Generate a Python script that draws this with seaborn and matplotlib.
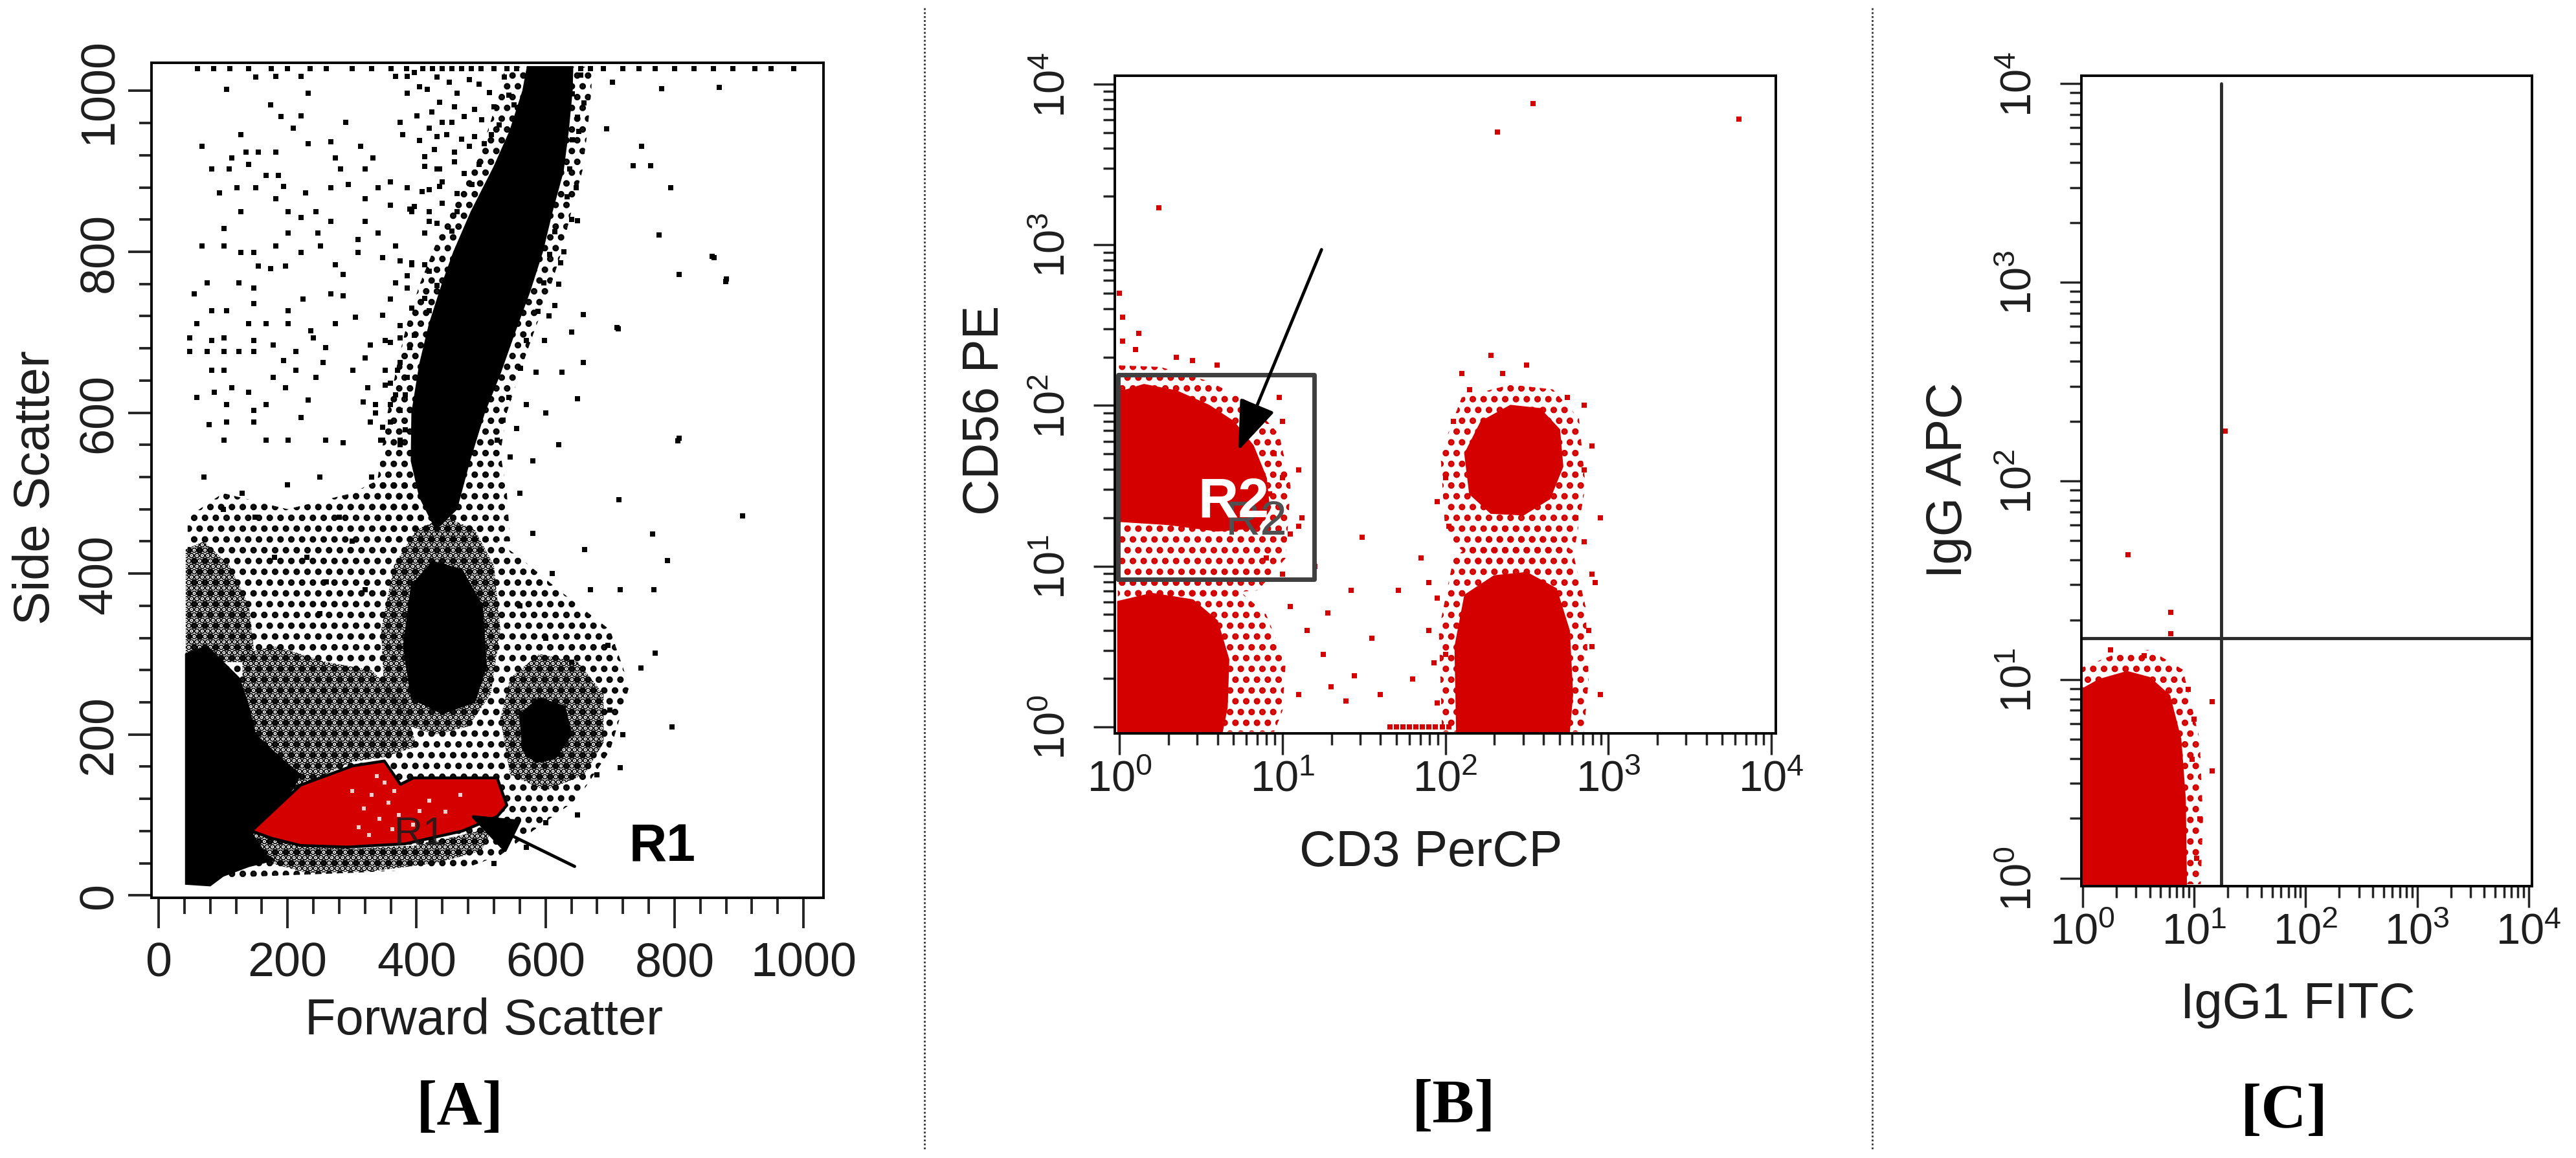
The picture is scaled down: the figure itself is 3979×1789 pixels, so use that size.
import numpy as np
import matplotlib as mpl
mpl.use('Agg')
import matplotlib.pyplot as plt
import matplotlib.ticker as ticker
from matplotlib.lines import Line2D
import seaborn as sns

sns.set_style('ticks')
plt.rcParams['font.family'] = ['Liberation Sans', 'DejaVu Sans']
mpl.rcParams['mathtext.fontset'] = 'custom'
mpl.rcParams['mathtext.rm'] = 'Liberation Sans'
mpl.rcParams['mathtext.it'] = 'Liberation Sans:italic'
mpl.rcParams['mathtext.bf'] = 'Liberation Sans:bold'
mpl.rcParams['mathtext.default'] = 'regular'
mpl.rcParams['hatch.linewidth'] = 4.8
mpl.rcParams['axes.linewidth'] = 2.8
mpl.rcParams['axes.edgecolor'] = 'black'

RED = '#d40000'
TXT = '#1e1e1e'

# ---------------- panel A : scatter (linear channels) ----------------
# dense cores (events so dense they merge into solid black)
A_STREAK_X = [430, 405, 392, 393, 405, 420, 440, 458, 485, 520, 545, 565, 572,
              642, 641, 635, 627, 610, 595, 575, 552, 530, 505, 482, 462]
A_STREAK_Y = [455, 495, 540, 600, 660, 710, 760, 800, 850, 905, 950, 1000, 1030,
              1030, 1000, 950, 900, 850, 800, 750, 700, 650, 600, 540, 480]
A_DEBRIS_X = [42, 42, 75, 100, 125, 138, 150, 190, 220, 200, 144, 165, 180, 140, 100, 80]
A_DEBRIS_Y = [14, 300, 310, 290, 270, 240, 200, 170, 150, 122, 78, 52, 44, 36, 24, 12]
A_MONO_CORE_X = [392, 380, 392, 425, 470, 502, 508, 490, 440]
A_MONO_CORE_Y = [245, 310, 385, 415, 405, 360, 285, 240, 226]
A_EOS_CORE_X = [565, 560, 590, 630, 640, 615, 585]
A_EOS_CORE_Y = [180, 225, 245, 235, 200, 170, 165]

# dense speckled areas
A_MONO_X = [390, 350, 345, 365, 400, 445, 490, 520, 530, 515, 480, 430]
A_MONO_Y = [210, 250, 330, 410, 455, 470, 455, 410, 330, 250, 210, 200]
A_EOS_X = [545, 530, 545, 590, 650, 690, 690, 660, 600]
A_EOS_Y = [150, 220, 270, 300, 290, 250, 190, 150, 130]
A_MID_X = [130, 130, 180, 260, 330, 380, 400, 350, 300, 230, 180]
A_MID_Y = [150, 300, 310, 290, 280, 240, 185, 172, 166, 140, 110]
A_BAND_X = [150, 140, 200, 300, 400, 470, 520, 500, 430, 330, 230]
A_BAND_Y = [45, 80, 68, 58, 62, 75, 85, 55, 40, 30, 28]
A_DEBRIS_UP_X = [42, 42, 70, 110, 140, 150]
A_DEBRIS_UP_Y = [290, 430, 440, 410, 360, 290]

# lighter speckled areas
A_LOW_X = [45, 45, 100, 200, 300, 350, 420, 560, 620, 700, 730, 700, 650, 580, 530, 480, 300, 200]
A_LOW_Y = [20, 470, 500, 480, 500, 520, 500, 420, 380, 330, 260, 180, 120, 80, 50, 35, 28, 25]
A_HALO_X = [340, 340, 355, 370, 385, 405, 425, 450, 485, 510, 530, 537,
            672, 671, 665, 657, 640, 625, 605, 582, 560, 540, 530, 540, 545]
A_HALO_Y = [440, 520, 600, 660, 710, 760, 800, 850, 905, 950, 1000, 1030,
            1030, 1000, 950, 900, 850, 800, 750, 700, 650, 600, 550, 500, 440]

# scattered single events (Forward, Side)
A_DOTS = [
    # right of the granulocyte streak
    (704, 1011), (780, 1003), (695, 953), (749, 931), (736, 907), (763, 907), (794, 880), (776, 821),
    (861, 793), (807, 772), (879, 763), (713, 704), (659, 722), (659, 662), (650, 617), (807, 568),
    (614, 733), (869, 1004), (858, 794), (880, 766), (711, 706), (805, 565), (906, 472), (714, 492),
    (766, 449), (789, 416), (768, 380), (770, 301), (796, 209), (716, 159), (748, 283), (716, 380),
    (661, 430), (670, 380), (697, 311),
    (641, 996), (650, 967), (641, 939), (637, 903), (633, 868), (614, 825), (606, 797), (597, 761),
    (588, 726), (570, 690), (561, 655), (543, 619), (534, 591), (525, 566), (623, 786), (650, 839),
    (614, 889), (655, 1020), (660, 985), (652, 950), (648, 880), (640, 840), (628, 800), (620, 760),
    (605, 720), (598, 690), (585, 650), (570, 610), (555, 580), (545, 545), (560, 500), (580, 540),
    (600, 600), (625, 650), (640, 700), (620, 560),
    # left of the streak
    (151, 1017), (182, 1018), (221, 1018), (367, 1018), (386, 1018), (105, 1002), (232, 997),
    (386, 997), (174, 983), (190, 968), (221, 969), (290, 961), (374, 961), (401, 969), (424, 974),
    (128, 946), (209, 954), (378, 946), (405, 938), (420, 954), (67, 931), (232, 934), (267, 937),
    (313, 931), (413, 918), (136, 924), (155, 924), (182, 924), (113, 917), (274, 917), (332, 917),
    (82, 903), (109, 903), (140, 909), (167, 895), (186, 895), (282, 903), (320, 903), (436, 903),
    (94, 873), (121, 880), (151, 880), (194, 881), (267, 880), (294, 884), (340, 880), (359, 887),
    (386, 880), (420, 877), (440, 887), (182, 866), (228, 873), (320, 866), (359, 858), (397, 856),
    (440, 860), (128, 850), (201, 850), (221, 843), (244, 850), (267, 838), (320, 838), (393, 850),
    (420, 838), (101, 829), (201, 823), (247, 823), (309, 815), (340, 823), (413, 823), (67, 807),
    (101, 807), (128, 799), (148, 799), (182, 807), (221, 799), (251, 807), (309, 799), (347, 793),
    (367, 807), (155, 782), (174, 779), (197, 782), (274, 784), (286, 772), (386, 770), (393, 784),
    (413, 784), (55, 748), (75, 761), (124, 761), (148, 755), (148, 736), (224, 741), (267, 748),
    (286, 745), (367, 761), (386, 755), (359, 741), (82, 727), (59, 711), (105, 727), (140, 711),
    (167, 711), (201, 727), (201, 711), (236, 702), (274, 711), (305, 719), (347, 721), (48, 693),
    (82, 690), (101, 693), (148, 690), (178, 684), (48, 676), (75, 676), (101, 676), (124, 676),
    (148, 676), (213, 676), (240, 693), (259, 681), (328, 684), (351, 690), (374, 693), (82, 653),
    (101, 653), (194, 665), (213, 653), (255, 662), (301, 653), (320, 668), (351, 653), (374, 662),
    (113, 631), (140, 625), (178, 644), (197, 631), (244, 644), (324, 631), (359, 637), (382, 622),
    (59, 619), (86, 625), (105, 610), (148, 603), (167, 610), (232, 616), (317, 613), (336, 600),
    (359, 610), (78, 585), (105, 588), (148, 588), (221, 594), (328, 588), (347, 582), (101, 566),
    (167, 566), (201, 566), (259, 566), (286, 563), (344, 566), (374, 566),
    # speckle along the streak's upper left edge
    (397, 1023), (405, 1005), (417, 1002), (432, 1017), (451, 1011), (463, 997), (482, 1014),
    (497, 1008), (513, 998), (536, 1017), (543, 995), (436, 986), (459, 980), (490, 977), (520, 980),
    (551, 983), (440, 961), (455, 961), (474, 968), (501, 964), (528, 958), (432, 943), (447, 946),
    (470, 940), (490, 943), (516, 946), (428, 927), (459, 924), (482, 931), (505, 934), (413, 906),
    (432, 903), (459, 912), (474, 897), (497, 909), (409, 875), (436, 881), (463, 872), (486, 884),
    (390, 853), (420, 850), (440, 860), (463, 850), (432, 835), (455, 826), (474, 813), (374, 789),
    (393, 786), (420, 776), (432, 758), (413, 742), (393, 730), (420, 727), (374, 708), (397, 696),
    (359, 687), (390, 681), (370, 653), (386, 644), (351, 634), (367, 622), (336, 610), (374, 603),
    (359, 588), (382, 579), (347, 566), (374, 560),
    # lower half
    (230, 420), (260, 390), (300, 440), (180, 420), (150, 470), (280, 470), (320, 380), (250, 350),
    (600, 320), (640, 290), (610, 400), (580, 450), (560, 360), (700, 230), (680, 150), (720, 200),
    (650, 100), (600, 90), (570, 60), (520, 40), (100, 480), (130, 500), (70, 520), (200, 510),
    (250, 520), (330, 520),
]
# events piled up at the top channel
A_TOP_X = [60, 85, 110, 140, 175, 200, 235, 260, 300, 330, 360, 385, 410, 425, 440, 455, 470, 485,
           500, 520, 540, 555, 655, 670, 690, 720, 745, 770, 800, 830, 860, 890, 925, 950, 985]
A_TOP_Y = 1028

# R1 gate
A_GATE_X = [144, 220, 301, 350, 375, 395, 525, 540, 525, 471, 382, 292, 220, 175, 144]
A_GATE_Y = [80, 137, 161, 167, 138, 146, 146, 112, 98, 80, 64, 60, 62, 71, 80]
A_GATE_HOLES = [(318, 108), (330, 125), (342, 95), (350, 140), (356, 115), (362, 82), (372, 100),
                (300, 130), (420, 118), (445, 104), (468, 125), (395, 88), (338, 148), (326, 75),
                (310, 85), (365, 130), (405, 105)]

# ---------------- panel B : CD3 PerCP vs CD56 PE (log10 exponents) ----------------
B_NK_CORE_U = [-0.01, -0.01, 0.15, 0.35, 0.55, 0.70, 0.82, 0.90, 0.92, 0.85, 0.60, 0.30]
B_NK_CORE_V = [1.28, 2.08, 2.13, 2.09, 2.00, 1.90, 1.75, 1.55, 1.35, 1.24, 1.22, 1.26]
B_NK_HALO_U = [-0.01, -0.01, 0.25, 0.55, 0.80, 0.98, 1.05, 1.02, 0.85, 0.50, 0.20]
B_NK_HALO_V = [0.85, 2.25, 2.24, 2.15, 2.02, 1.82, 1.50, 1.05, 0.85, 0.82, 0.82]
B_LO_CORE_U = [-0.01, -0.01, 0.20, 0.45, 0.60, 0.67, 0.66, 0.63]
B_LO_CORE_V = [-0.03, 0.78, 0.83, 0.79, 0.66, 0.42, 0.12, -0.03]
B_LO_HALO_U = [-0.01, -0.01, 0.30, 0.70, 0.90, 1.02, 1.00, 0.95]
B_LO_HALO_V = [-0.03, 0.90, 0.92, 0.88, 0.70, 0.40, 0.10, -0.03]
B_DP_CORE_U = [2.15, 2.12, 2.22, 2.40, 2.58, 2.70, 2.72, 2.64, 2.48, 2.28]
B_DP_CORE_V = [1.45, 1.70, 1.90, 2.00, 1.98, 1.85, 1.62, 1.42, 1.32, 1.33]
B_DP_HALO_U = [2.00, 1.97, 2.10, 2.40, 2.66, 2.82, 2.86, 2.80, 2.50, 2.20]
B_DP_HALO_V = [1.20, 1.70, 2.05, 2.13, 2.10, 1.92, 1.50, 1.15, 1.00, 1.00]
B_T_CORE_U = [2.07, 2.06, 2.12, 2.30, 2.50, 2.68, 2.76, 2.78, 2.76]
B_T_CORE_V = [-0.03, 0.50, 0.82, 0.94, 0.96, 0.86, 0.60, 0.20, -0.03]
B_T_HALO_U = [1.98, 1.96, 2.05, 2.30, 2.55, 2.78, 2.86, 2.88, 2.85]
B_T_HALO_V = [-0.03, 0.60, 1.05, 1.25, 1.25, 1.10, 0.75, 0.30, -0.03]
B_DOTS = [
    (0.24, 3.23), (2.32, 3.70), (2.54, 3.88), (3.80, 3.78), (2.28, 2.31), (1.49, 1.18), (1.42, 0.85),
    (1.71, 0.85), (1.28, 0.71), (1.39, 0.16), (1.44, 0.32), (1.25, 0.45), (1.15, 0.60), (1.55, 0.55),
    (1.30, 0.25), (1.10, 0.20), (1.60, 0.20), (1.80, 0.30), (1.90, 0.60), (1.85, 1.05), (1.95, 1.40),
    (1.90, 0.90), (1.20, 1.00), (1.10, 1.25), (0.02, 2.55), (0.02, 2.40), (0.10, 2.35), (0.12, 2.45),
    (0.35, 2.30), (0.45, 2.28), (0.00, 2.70), (0.60, 2.25), (1.00, 1.90), (1.10, 1.60), (1.12, 1.30),
    (2.10, 2.20), (2.50, 2.25), (2.35, 2.20), (2.90, 1.75), (2.95, 1.30), (2.92, 0.90), (2.90, 0.50),
    (2.95, 0.20), (1.95, 0.15), (2.00, 0.45), (2.85, 2.00), (1.00, 0.95), (1.05, 0.75), (0.90, 1.05),
    (0.90, 1.95), (0.95, 1.70), (1.00, 1.55), (0.92, 1.45), (0.98, 2.05), (1.05, 1.20), (2.05, 1.90),
    (2.00, 1.55), (2.15, 2.10), (2.75, 2.05), (2.85, 1.60), (2.80, 1.30), (2.02, 1.25), (1.95, 0.80),
    (1.93, 0.40), (2.88, 0.60), (2.90, 0.95), (2.85, 1.15),
]
B_FLOOR_U = [1.66, 1.70, 1.74, 1.78, 1.82, 1.86, 1.90, 1.94, 1.98, 2.02]
B_FLOOR_V = 0.0
B_GATE_U = [-0.01, 1.196, 1.196, -0.01, -0.01]
B_GATE_V = [0.92, 0.92, 2.19, 2.19, 0.92]

# ---------------- panel C : isotype control ----------------
C_CORE_U = [-0.01, -0.01, 0.15, 0.40, 0.60, 0.78, 0.88, 0.92, 0.93]
C_CORE_V = [-0.03, 0.95, 1.00, 1.04, 1.01, 0.92, 0.70, 0.40, -0.03]
C_HALO_U = [-0.01, -0.01, 0.30, 0.60, 0.90, 1.05, 1.08, 1.06]
C_HALO_V = [-0.03, 1.06, 1.13, 1.15, 1.05, 0.70, 0.30, -0.03]
C_DOTS = [(0.41, 1.63), (0.79, 1.34), (1.16, 0.89), (1.16, 0.54), (1.28, 2.25), (0.79, 1.23),
          (0.25, 1.15), (0.55, 1.12), (0.95, 0.95), (1.00, 0.80), (1.05, 0.30), (1.02, 0.10), (0.98, 0.60)]
C_QUAD_X = 17.6
C_QUAD_Y = 16.1

LOG_TICKS = [1, 10, 100, 1000, 10000]


def lin(vals):
    return np.power(10.0, np.asarray(vals, dtype=float))


def region(ax, xs, ys, color, hatch=None, z=1):
    if hatch:
        ax.fill(xs, ys, facecolor='none', edgecolor=color, hatch=hatch, linewidth=0, zorder=z)
    else:
        ax.fill(xs, ys, facecolor=color, edgecolor=color, linewidth=1.5, zorder=z)


def dots(ax, pts, color, s=40, z=4):
    xs, ys = zip(*pts)
    sns.scatterplot(x=list(xs), y=list(ys), ax=ax, color=color, marker='s', s=s,
                    linewidth=0, legend=False, zorder=z)


fig = plt.figure(figsize=(39.8, 17.9), dpi=100)
axA = fig.add_axes([0.0588, 0.2246, 0.2608, 0.7207])
axB = fig.add_axes([0.4327, 0.3665, 0.2565, 0.5676])
axC = fig.add_axes([0.8078, 0.2346, 0.1749, 0.6995])

# ---- A ----
region(axA, A_LOW_X, A_LOW_Y, 'k', '.', 1)
region(axA, A_HALO_X, A_HALO_Y, 'k', '.', 1)
for xs, ys in [(A_MONO_X, A_MONO_Y), (A_EOS_X, A_EOS_Y), (A_MID_X, A_MID_Y),
               (A_BAND_X, A_BAND_Y), (A_DEBRIS_UP_X, A_DEBRIS_UP_Y)]:
    region(axA, xs, ys, 'k', '..', 2)
for xs, ys in [(A_STREAK_X, A_STREAK_Y), (A_DEBRIS_X, A_DEBRIS_Y),
               (A_MONO_CORE_X, A_MONO_CORE_Y), (A_EOS_CORE_X, A_EOS_CORE_Y)]:
    region(axA, xs, ys, 'k', None, 3)
dots(axA, A_DOTS, 'k')
dots(axA, [(x, A_TOP_Y) for x in A_TOP_X], 'k')
axA.fill(A_GATE_X, A_GATE_Y, facecolor=RED, edgecolor='none', zorder=5)
dots(axA, A_GATE_HOLES, '#f6d0d0', s=22, z=6)
axA.plot(A_GATE_X, A_GATE_Y, color='k', lw=3.2, zorder=6)
axA.text(405, 76, 'R1', fontsize=44, color='#1a1a1a', ha='center', va='center', zorder=7, alpha=0.85)
axA.annotate('', xy=(482, 100), xytext=(645, 36), zorder=8,
             arrowprops=dict(arrowstyle='-|>,head_length=2.4,head_width=0.9', color='k', lw=3.5,
                             mutation_scale=20, shrinkA=0, shrinkB=0))
axA.text(781, 60, 'R1', fontsize=58, fontweight='bold', ha='center', va='center', color='k', zorder=8)

axA.set_xlim(-11, 1031)
axA.set_ylim(-3, 1035)
axA.xaxis.set_major_locator(ticker.MultipleLocator(200))
axA.xaxis.set_minor_locator(ticker.MultipleLocator(40))
axA.yaxis.set_major_locator(ticker.MultipleLocator(200))
axA.yaxis.set_minor_locator(ticker.MultipleLocator(40))
axA.tick_params(axis='x', which='major', length=34, width=2.8, pad=14, labelsize=53, labelcolor=TXT)
axA.tick_params(axis='x', which='minor', length=18, width=2.8)
axA.tick_params(axis='y', which='major', length=26, width=2.8, pad=7, labelsize=53, labelcolor=TXT,
                labelrotation=90)
axA.tick_params(axis='y', which='minor', length=14, width=2.8)
axA.set_xlabel('Forward Scatter', fontsize=56, color=TXT)
axA.set_ylabel('Side Scatter', fontsize=56, color=TXT)
axA.xaxis.set_label_coords(0.495, -0.147)
axA.yaxis.set_label_coords(-0.172, 0.492)

# ---- B ----
for us, vs in [(B_LO_HALO_U, B_LO_HALO_V), (B_DP_HALO_U, B_DP_HALO_V),
               (B_NK_HALO_U, B_NK_HALO_V), (B_T_HALO_U, B_T_HALO_V)]:
    region(axB, lin(us), lin(vs), RED, '.', 1)
for us, vs in [(B_NK_CORE_U, B_NK_CORE_V), (B_LO_CORE_U, B_LO_CORE_V),
               (B_DP_CORE_U, B_DP_CORE_V), (B_T_CORE_U, B_T_CORE_V)]:
    region(axB, lin(us), lin(vs), RED, None, 3)
dots(axB, [(10 ** u, 10 ** v) for u, v in B_DOTS], RED)
dots(axB, [(10 ** u, 10 ** B_FLOOR_V) for u in B_FLOOR_U], RED)
axB.plot(lin(B_GATE_U), lin(B_GATE_V), color='#404040', lw=5, zorder=6)
axB.text(10 ** 0.84, 10 ** 1.28, 'R2', fontsize=54, color='#505050', ha='center', va='center', zorder=6)
axB.text(10 ** 0.70, 10 ** 1.40, 'R2', fontsize=62, fontweight='bold', color='white',
         ha='center', va='center', zorder=7)
axB.annotate('', xy=(10 ** 0.73, 10 ** 1.72), xytext=(10 ** 1.24, 10 ** 2.97), zorder=8,
             arrowprops=dict(arrowstyle='-|>,head_length=2.4,head_width=0.9', color='k', lw=3.5,
                             mutation_scale=20, shrinkA=0, shrinkB=0))
axB.set_xscale('log')
axB.set_yscale('log')
axB.set_xlim(10 ** -0.028, 10 ** 4.028)
axB.set_ylim(10 ** -0.04, 10 ** 4.052)
axB.set_xlabel('CD3 PerCP', fontsize=56, color=TXT)
axB.set_ylabel('CD56 PE', fontsize=56, color=TXT)
axB.xaxis.set_label_coords(0.478, -0.181)
axB.yaxis.set_label_coords(-0.197, 0.492)

# ---- C ----
region(axC, lin(C_HALO_U), lin(C_HALO_V), RED, '.', 2)
region(axC, lin(C_CORE_U), lin(C_CORE_V), RED, None, 3)
dots(axC, [(10 ** u, 10 ** v) for u, v in C_DOTS], RED)
axC.set_xscale('log')
axC.set_yscale('log')
axC.set_xlim(10 ** -0.01, 10 ** 4.03)
axC.set_ylim(10 ** -0.04, 10 ** 4.04)
axC.plot([C_QUAD_X, C_QUAD_X], [10 ** -0.04, LOG_TICKS[-1]], color='#2b2b2b', lw=3.5, zorder=6)
axC.plot([10 ** -0.01, 10 ** 4.03], [C_QUAD_Y, C_QUAD_Y], color='#2b2b2b', lw=3.5, zorder=6)
axC.set_xlabel('IgG1 FITC', fontsize=56, color=TXT)
axC.set_ylabel('IgG APC', fontsize=56, color=TXT)
axC.xaxis.set_label_coords(0.480, -0.146)
axC.yaxis.set_label_coords(-0.295, 0.502)

for ax in (axB, axC):
    for axis in (ax.xaxis, ax.yaxis):
        axis.set_major_locator(ticker.FixedLocator(LOG_TICKS))
        axis.set_minor_locator(ticker.LogLocator(base=10, subs=np.arange(2, 10), numticks=20))
        axis.set_minor_formatter(ticker.NullFormatter())
        axis.set_major_formatter(ticker.LogFormatterSciNotation())
    ax.tick_params(axis='x', which='major', length=24, width=2.5, pad=5, labelsize=48, labelcolor=TXT)
    ax.tick_params(axis='y', which='major', length=24, width=2.5, pad=22, labelsize=48, labelcolor=TXT,
                   labelrotation=90)
    ax.tick_params(which='minor', length=13, width=2.5)

for ax in (axA, axB, axC):
    ax.xaxis.label.set_va('center')
    ax.yaxis.label.set_va('center')
    for lab in ax.get_yticklabels():
        lab.set_va('center')
    for sp in ax.spines.values():
        sp.set_linewidth(2.8)
        sp.set_color('black')
        sp.set_zorder(10)

# panel captions and separators
for x, y, s in [(0.1784, 0.0425, '[A]'), (0.5643, 0.0436, '[B]'), (0.8864, 0.0402, '[C]')]:
    fig.text(x, y, s, fontsize=70, fontweight='bold', family=['Liberation Serif', 'DejaVu Serif'],
             ha='center', va='center', color='black')
for x in (0.3588, 0.7266):
    fig.add_artist(Line2D([x, x], [0.008, 0.994], transform=fig.transFigure, color='#333333',
                          lw=2, linestyle=(0, (1, 1.2))))

fig.savefig('out.png', dpi=100, facecolor='white')
